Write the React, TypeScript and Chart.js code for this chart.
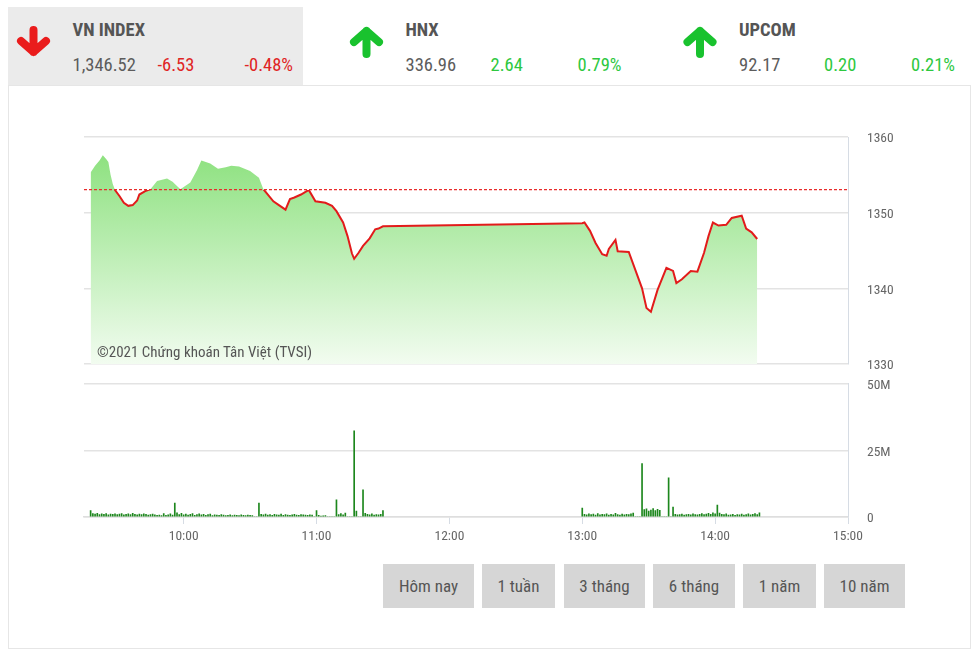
import React, { useEffect, useRef } from "react";
import { Chart, registerables } from "chart.js";

Chart.register(...registerables);

// ---------- data ----------
const REF_VALUE = 1353.05; // previous close
const X_MIN = "9:15";
const X_MAX = "15:00";
const xTickTimes = ["10:00", "11:00", "12:00", "13:00", "14:00", "15:00"];
const priceTicks = [1330, 1340, 1350, 1360];
const volTicks = [0, 25, 50]; // millions

const priceTimes = [
  "9:18", "9:20", "9:22", "9:23:30", "9:25", "9:26", "9:27", "9:28", "9:29", "9:31",
  "9:33", "9:35", "9:37", "9:39", "9:40", "9:43", "9:45", "9:48", "9:52:30", "9:55",
  "9:58:30", "10:03", "10:06", "10:08", "10:12", "10:15:30", "10:19", "10:21:30", "10:25", "10:27:30",
  "10:30", "10:34", "10:36", "10:40:30", "10:43", "10:46", "10:48", "10:50", "10:53", "10:56:30",
  "10:59:30", "11:04", "11:07", "11:09", "11:12", "11:14", "11:16", "11:17", "11:19", "11:21",
  "11:24", "11:26:30", "11:28", "11:30",
  "13:00", "13:01", "13:03:30", "13:06", "13:09", "13:11", "13:12", "13:15", "13:16", "13:21",
  "13:27", "13:29", "13:31", "13:34", "13:38", "13:41", "13:42:30", "13:45", "13:49", "13:52",
  "13:55", "13:57", "13:59", "14:01:30", "14:05", "14:07:30", "14:12", "14:14", "14:16:30", "14:19",
];
const priceValues = [
  1355.3, 1356.2, 1356.9, 1357.6, 1357.1, 1356.7, 1355.0, 1353.8, 1353.0, 1352.2,
  1351.3, 1350.9, 1351.0, 1351.6, 1352.4, 1352.9, 1353.1, 1354.2, 1354.5, 1354.1,
  1353.1, 1354.0, 1355.6, 1356.9, 1356.5, 1355.8, 1356.0, 1356.2, 1356.1, 1355.8,
  1355.5, 1354.6, 1353.1, 1351.5, 1351.0, 1350.4, 1351.8, 1352.0, 1352.4, 1353.0,
  1351.5, 1351.3, 1350.9, 1350.2, 1348.7, 1346.9, 1344.6, 1343.9, 1344.7, 1345.6,
  1346.6, 1347.8, 1347.9, 1348.2,
  1348.6, 1348.7, 1347.6, 1346.0, 1344.5, 1344.3, 1345.2, 1346.4, 1344.9, 1344.8,
  1340.0, 1337.4, 1336.9, 1339.8, 1342.7, 1342.3, 1340.7, 1341.2, 1342.3, 1342.2,
  1344.7, 1346.9, 1348.7, 1348.3, 1348.4, 1349.3, 1349.6, 1347.9, 1347.4, 1346.52,
];

// volume per minute, in millions
const volMorningStart = "9:18";
const volMorning = [
  2.4, 1.3, 1.1, 1.4, 0.9, 1.2, 1.0, 1.3, 0.8, 1.1,
  1.0, 1.2, 0.9, 1.1, 1.3, 0.8, 1.0, 1.2, 0.9, 1.4,
  1.0, 0.8, 1.1, 0.9, 1.2, 1.0, 0.7, 0.9, 1.1, 0.8,
  0.6, 0.7, 0.5, 1.3, 0.6, 0.8, 1.2, 0.7, 5.2, 1.6,
  0.9, 1.4, 0.8, 1.1, 0.7, 1.0, 1.3, 0.6, 0.9, 1.2,
  0.8, 1.0, 0.6, 0.9, 1.1, 0.5, 0.8, 0.7, 0.6, 0.9,
  0.7, 0.5, 0.6, 0.8, 0.5, 0.7, 0.6, 0.5, 0.8, 0.6,
  0.5, 0.7, 0.6, 0.5, 0, 0, 5.2, 1.0, 0.8, 1.1,
  0.7, 0.9, 0.6, 1.0, 0.8, 0.7, 1.1, 0.6, 0.9, 0.7,
  0.6, 0.8, 1.0, 0.7, 0.6, 0.9, 0.8, 0.7, 0.6, 0.8,
  0.7, 0, 2.4, 0.6, 0.3, 0.4, 0.5, 0, 0, 0,
  0, 6.4, 0.9, 1.3, 0.8, 1.5, 0, 0, 0, 32.3,
  2.2, 0, 0, 10.2, 1.4, 1.0, 0.8, 1.2, 0.7, 0.9,
  0.8, 1.0, 2.4,
];
const volAfternoonStart = "13:00";
const volAfternoon = [
  3.3, 1.0, 0.8, 1.2, 0.9, 1.1, 0.7, 1.3, 0.8, 1.0,
  0.9, 1.2, 0.7, 1.0, 0.8, 1.4, 0.9, 0.7, 1.1, 0.8,
  1.0, 0.9, 1.2, 1.5, 0, 0, 0, 20.0, 2.8, 3.1,
  2.2, 2.6, 3.2, 2.4, 2.9, 2.5, 0, 0, 0, 14.7,
  0, 3.7, 1.0, 0.8, 0.9, 1.1, 0.7, 0.9, 1.0, 0.8,
  1.2, 0.9, 0.8, 1.0, 1.3, 0.9, 1.1, 1.4, 1.0, 1.6,
  1.2, 4.5, 1.5, 1.0, 0.9, 1.2, 0.7, 0.8, 1.0, 0.6,
  0.9, 0.8, 1.1, 0.7, 0.9, 1.2, 0.8, 1.0, 1.3, 0.9,
  1.6,
];

const indexNames = ["VN INDEX", "HNX", "UPCOM"];
const indexValues = ["1,346.52", "336.96", "92.17"];
const indexChanges = ["-6.53", "2.64", "0.20"];
const indexPercents = ["-0.48%", "0.79%", "0.21%"];
const indexUp = indexChanges.map((c) => !c.startsWith("-"));

const rangeButtons = ["Hôm nay", "1 tuần", "3 tháng", "6 tháng", "1 năm", "10 năm"];

// ---------- helpers ----------
function toMin(t: string): number {
  const p = t.split(":").map(Number);
  return p[0] * 60 + p[1] + (p[2] || 0) / 60;
}
function fmtTime(m: number): string {
  const h = Math.floor(m / 60);
  const mm = Math.round(m - h * 60);
  return `${String(h).padStart(2, "0")}:${String(mm).padStart(2, "0")}`;
}

const FONT = '"Roboto Condensed", Roboto, sans-serif';
const TICK_COLOR = "#666";
const GRID_COLOR = "#e3e3e3";
const FRAME_COLOR = "#d6dce4";
const RED = "#e21b1b";
const FILL_TOP = "rgb(133,223,118)";
const FILL_BOTTOM = "rgb(242,252,240)";

// layout (pixels)
const PLOT_LEFT = 84;
const PLOT_RIGHT = 848;
const AXIS_W = 60;
const LABEL_GAP = 19;
const PRICE_CANVAS = { top: 0, h: 380, plotTop: 137, plotBottom: 364 };
const VOL_CANVAS = { top: 370, h: 190, plotTop: 383.5, plotBottom: 517 };
const BLOCK_X = [8, 341, 674.5];
const BTN_X = [383, 482, 564, 653, 743, 824];
const BTN_W = [91, 73, 81, 82, 73, 81];

function yAxis(ticks: number[], label: (v: number) => string) {
  return {
    position: "right",
    min: ticks[0],
    max: ticks[ticks.length - 1],
    afterBuildTicks: (s: any) => {
      s.ticks = ticks.map((v) => ({ value: v }));
    },
    afterFit: (s: any) => {
      s.width = AXIS_W;
    },
    ticks: {
      padding: 0,
      labelOffset: 2,
      color: TICK_COLOR,
      font: { family: FONT, size: 13.5 },
      callback: (v: any) => label(Number(v)),
    },
    grid: {
      color: GRID_COLOR,
      lineWidth: 1.5,
      drawTicks: true,
      tickLength: LABEL_GAP,
      tickColor: "rgba(0,0,0,0)",
    },
    border: { display: true, color: FRAME_COLOR, width: 1 },
  };
}

export default function App() {
  const priceRef = useRef<HTMLCanvasElement>(null);
  const volRef = useRef<HTMLCanvasElement>(null);

  useEffect(() => {
    const xMin = toMin(X_MIN);
    const xMax = toMin(X_MAX);
    const xTicks = xTickTimes.map(toMin);

    const pricePts = priceTimes.map((t, i) => ({ x: toMin(t), y: priceValues[i] }));
    const refPts = [
      { x: xMin, y: REF_VALUE },
      { x: xMax, y: REF_VALUE },
    ];

    const priceChart = new Chart(priceRef.current!, {
      type: "line",
      data: {
        datasets: [
          {
            data: refPts,
            borderColor: "#e82c2c",
            borderWidth: 1.2,
            borderDash: [3, 2],
            pointRadius: 0,
            fill: false,
            order: 0,
          },
          {
            data: pricePts,
            borderWidth: 2,
            pointRadius: 0,
            tension: 0,
            fill: "start",
            order: 1,
            borderColor: (ctx: any) => {
              const chart = ctx.chart;
              const ca = chart.chartArea;
              if (!ca) return RED;
              const yRef = chart.scales.y.getPixelForValue(REF_VALUE);
              let f = (yRef - ca.top) / (ca.bottom - ca.top);
              f = Math.min(1, Math.max(0, f));
              const g = chart.ctx.createLinearGradient(0, ca.top, 0, ca.bottom);
              g.addColorStop(0, "rgba(133,223,118,0)");
              g.addColorStop(f, "rgba(133,223,118,0)");
              g.addColorStop(f, RED);
              g.addColorStop(1, RED);
              return g;
            },
            backgroundColor: (ctx: any) => {
              const chart = ctx.chart;
              const ca = chart.chartArea;
              if (!ca) return FILL_TOP;
              const g = chart.ctx.createLinearGradient(0, ca.top, 0, ca.bottom);
              g.addColorStop(0, FILL_TOP);
              g.addColorStop(1, FILL_BOTTOM);
              return g;
            },
          },
        ],
      },
      options: {
        animation: false,
        responsive: false,
        events: [],
        layout: {
          padding: {
            left: PLOT_LEFT,
            top: PRICE_CANVAS.plotTop - PRICE_CANVAS.top,
            right: 978 - PLOT_RIGHT - AXIS_W,
            bottom: PRICE_CANVAS.top + PRICE_CANVAS.h - PRICE_CANVAS.plotBottom,
          },
        },
        plugins: { legend: { display: false }, tooltip: { enabled: false } },
        scales: {
          x: { type: "linear", min: xMin, max: xMax, display: false },
          y: yAxis(priceTicks, (v) => String(v)),
        },
      },
    } as any);

    const vStartM = toMin(volMorningStart);
    const vStartA = toMin(volAfternoonStart);
    const volPts = [
      ...volMorning.map((v, i) => ({ x: vStartM + i, y: v })),
      ...volAfternoon.map((v, i) => ({ x: vStartA + i, y: v })),
    ];

    const volChart = new Chart(volRef.current!, {
      type: "bar",
      data: {
        datasets: [
          {
            data: volPts,
            backgroundColor: "#1d871d",
            barThickness: 1,
            borderWidth: 0,
          },
        ],
      },
      options: {
        animation: false,
        responsive: false,
        events: [],
        layout: {
          padding: {
            left: PLOT_LEFT,
            top: VOL_CANVAS.plotTop - VOL_CANVAS.top,
            right: 978 - PLOT_RIGHT - AXIS_W,
            bottom: 0,
          },
        },
        plugins: { legend: { display: false }, tooltip: { enabled: false } },
        scales: {
          x: {
            type: "linear",
            min: xMin,
            max: xMax,
            offset: false,
            afterBuildTicks: (s: any) => {
              s.ticks = xTicks.map((v) => ({ value: v }));
            },
            afterFit: (s: any) => {
              s.height = VOL_CANVAS.top + VOL_CANVAS.h - VOL_CANVAS.plotBottom;
            },
            ticks: {
              autoSkip: false,
              maxRotation: 0,
              padding: 5,
              color: TICK_COLOR,
              font: { family: FONT, size: 13.5 },
              callback: (v: any) => fmtTime(Number(v)),
            },
            grid: {
              offset: false,
              drawOnChartArea: false,
              drawTicks: true,
              tickLength: 7,
              color: FRAME_COLOR,
            },
            border: { display: true, color: "#dedede", width: 1.5 },
          },
          y: yAxis(volTicks, (v) => (v === 0 ? "0" : `${v}M`)),
        },
      },
    } as any);

    return () => {
      priceChart.destroy();
      volChart.destroy();
    };
  }, []);

  const textBase: React.CSSProperties = {
    position: "absolute",
    fontFamily: FONT,
    whiteSpace: "nowrap",
    lineHeight: "19px",
  };

  return (
    <div style={{ position: "absolute", left: 0, top: 0, width: 978, height: 652, background: "#fff", overflow: "hidden" }}>
      {/* header */}
      <div style={{ position: "absolute", left: 8, top: 7, width: 295, height: 78, background: "#ebebeb" }} />
      <svg width={978} height={86} style={{ position: "absolute", left: 0, top: 0 }}>
        {indexNames.map((_, i) => {
          const cx = BLOCK_X[i] + 25.5;
          const up = indexUp[i];
          const color = up ? "#19c22e" : "#ea1c1c";
          const d = up
            ? `M ${cx} 54 L ${cx} 31 M ${cx - 12.5} 42 L ${cx} 31 L ${cx + 12.5} 42`
            : `M ${cx} 30 L ${cx} 52 M ${cx - 12.5} 41 L ${cx} 52 L ${cx + 12.5} 41`;
          return (
            <path key={i} d={d} stroke={color} strokeWidth={8} strokeLinecap="round" strokeLinejoin="round" fill="none" />
          );
        })}
      </svg>
      {indexNames.map((name, i) => {
        const bx = BLOCK_X[i];
        const col = indexUp[i] ? "#2ec83f" : "#e02424";
        return (
          <React.Fragment key={name}>
            <div style={{ ...textBase, left: bx + 64.5, top: 21, fontSize: 18.5, fontWeight: 700, color: "#555" }}>{name}</div>
            <div style={{ ...textBase, left: bx + 64.5, top: 56, fontSize: 18.5, color: "#5c5c5c" }}>{indexValues[i]}</div>
            <div style={{ ...textBase, left: bx + 149.5, top: 56, fontSize: 18.5, color: col }}>{indexChanges[i]}</div>
            <div style={{ ...textBase, left: bx + 236.5, top: 56, fontSize: 18.5, color: col }}>{indexPercents[i]}</div>
          </React.Fragment>
        );
      })}

      {/* panel */}
      <div style={{ position: "absolute", left: 8, top: 85, width: 961, height: 562, border: "1px solid #e6e6e6", boxSizing: "content-box" }} />

      <canvas
        ref={priceRef}
        width={978}
        height={PRICE_CANVAS.h}
        style={{ position: "absolute", left: 0, top: PRICE_CANVAS.top, width: 978, height: PRICE_CANVAS.h }}
      />
      <canvas
        ref={volRef}
        width={978}
        height={VOL_CANVAS.h}
        style={{ position: "absolute", left: 0, top: VOL_CANVAS.top, width: 978, height: VOL_CANVAS.h }}
      />

      <div style={{ ...textBase, left: 97, top: 345, fontSize: 15, lineHeight: "15px", color: "#555" }}>
        ©2021 Chứng khoán Tân Việt (TVSI)
      </div>

      {rangeButtons.map((b, i) => (
        <div
          key={b}
          style={{
            position: "absolute",
            left: BTN_X[i],
            top: 564,
            width: BTN_W[i],
            height: 44,
            background: "#d6d6d6",
            display: "flex",
            alignItems: "center",
            justifyContent: "center",
            fontFamily: FONT,
            fontSize: 17,
            color: "#555",
          }}
        >
          {b}
        </div>
      ))}
    </div>
  );
}
